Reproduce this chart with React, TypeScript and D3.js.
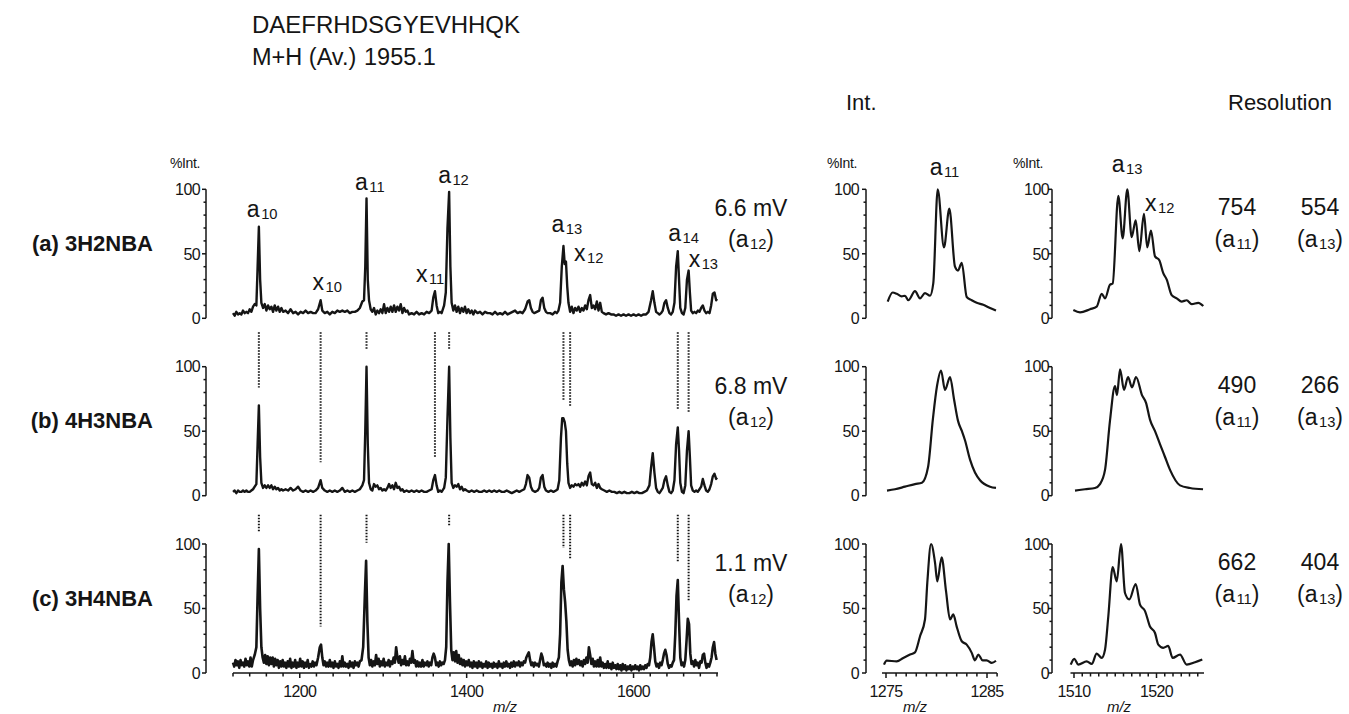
import React, { useEffect, useRef } from "react";
import * as d3 from "d3";

type Pt = [number, number];

const title = "DAEFRHDSGYEVHHQK";
const massLabel = "M+H (Av.)";
const massValue = "1955.1";

const panelNames = ["(a) 3H2NBA", "(b) 4H3NBA", "(c) 3H4NBA"];
const signal = ["6.6 mV", "6.8 mV", "1.1 mV"];
const resA11 = ["754", "490", "662"];
const resA13 = ["554", "266", "404"];

const mainTicks = [1200, 1400, 1600];
const leftZoomTicks = [1275, 1285];
const rightZoomTicks = [1510, 1520];
const yTicks = [0, 50, 100];

// full spectra, [m/z, %Int]
const spectrumA: Pt[] = [
  [1120, 4], [1122, 2], [1124, 5], [1126, 3], [1128, 4], [1130, 3], [1132, 6], [1134, 4], [1136, 5], [1138, 4],
  [1140, 7], [1142, 5], [1144, 9], [1146, 11], [1148, 10], [1149.5, 40], [1151, 71], [1152.5, 30], [1154, 12],
  [1156, 8], [1158, 11], [1160, 6], [1162, 10], [1164, 7], [1166, 9], [1168, 5], [1170, 10], [1172, 6], [1174, 9],
  [1176, 5], [1178, 8], [1180, 5], [1183, 6], [1186, 4], [1189, 7], [1192, 4], [1195, 5], [1198, 3], [1201, 5],
  [1204, 4], [1207, 6], [1210, 4], [1213, 5], [1216, 4], [1219, 4], [1222, 7], [1225, 14], [1227, 6], [1230, 4],
  [1233, 5], [1236, 3], [1239, 5], [1242, 4], [1245, 6], [1248, 5], [1251, 6], [1254, 5], [1257, 6], [1260, 4],
  [1263, 5], [1266, 5], [1269, 6], [1272, 8], [1275, 13], [1277, 14], [1278.5, 40], [1280, 93], [1281.5, 30],
  [1283, 14], [1285, 7], [1287, 5], [1289, 8], [1291, 3], [1293, 6], [1295, 4], [1297, 7], [1299, 4], [1301, 11],
  [1303, 4], [1305, 8], [1307, 5], [1309, 9], [1311, 5], [1313, 10], [1315, 5], [1317, 9], [1319, 6], [1321, 11],
  [1323, 4], [1325, 8], [1327, 5], [1329, 6], [1331, 3], [1334, 4], [1337, 3], [1340, 5], [1343, 3], [1346, 4],
  [1349, 3], [1352, 5], [1355, 4], [1358, 6], [1360, 16], [1362, 21], [1364, 10], [1366, 4], [1368, 5], [1370, 4],
  [1373, 10], [1375, 20], [1377, 70], [1379, 98], [1380.5, 40], [1382, 12], [1384, 6], [1386, 10], [1388, 5],
  [1390, 9], [1392, 4], [1394, 8], [1396, 5], [1398, 9], [1400, 4], [1402, 7], [1404, 4], [1406, 6], [1408, 3],
  [1410, 6], [1413, 4], [1416, 5], [1419, 3], [1422, 5], [1425, 4], [1428, 4], [1431, 3], [1434, 5], [1437, 3],
  [1440, 4], [1443, 3], [1446, 5], [1449, 3], [1452, 4], [1455, 5], [1458, 6], [1461, 4], [1464, 5], [1467, 4],
  [1470, 7], [1473, 13], [1475, 14], [1477, 8], [1479, 5], [1481, 4], [1484, 5], [1487, 6], [1489, 14], [1491, 16],
  [1493, 8], [1495, 5], [1497, 4], [1500, 4], [1503, 3], [1506, 5], [1508, 4], [1510, 6], [1512, 12], [1514, 40],
  [1516, 56], [1517.5, 42], [1519, 44], [1520.5, 25], [1522, 12], [1524, 5], [1526, 9], [1528, 4], [1530, 8],
  [1532, 6], [1534, 9], [1536, 5], [1538, 8], [1540, 6], [1542, 10], [1544, 7], [1546, 14], [1548, 18], [1550, 8],
  [1552, 10], [1554, 7], [1556, 13], [1558, 6], [1560, 12], [1562, 5], [1564, 4], [1567, 3], [1570, 4], [1573, 3],
  [1576, 3], [1579, 2], [1582, 3], [1585, 2], [1588, 3], [1591, 2], [1594, 3], [1597, 2], [1600, 3], [1603, 2],
  [1606, 3], [1609, 2], [1612, 3], [1615, 3], [1618, 5], [1621, 14], [1623, 21], [1625, 12], [1627, 5], [1629, 4],
  [1631, 3], [1633, 4], [1635, 6], [1637, 12], [1639, 14], [1641, 8], [1643, 4], [1645, 3], [1647, 5], [1649, 12],
  [1651, 40], [1653, 52], [1654.5, 30], [1656, 8], [1658, 4], [1660, 3], [1662, 8], [1664, 30], [1666, 37],
  [1667.5, 20], [1669, 6], [1671, 4], [1673, 5], [1675, 4], [1677, 6], [1679, 5], [1681, 8], [1683, 10], [1685, 6],
  [1687, 4], [1689, 5], [1691, 4], [1693, 10], [1695, 19], [1697, 20], [1699, 14], [1700, 15],
];

const spectrumB: Pt[] = [
  [1120, 3], [1122, 4], [1124, 2], [1126, 4], [1128, 3], [1130, 3], [1132, 4], [1134, 3], [1136, 4], [1138, 3],
  [1140, 3], [1142, 4], [1144, 5], [1146, 7], [1148, 9], [1149.5, 40], [1151, 70], [1152.5, 30], [1154, 10],
  [1156, 6], [1158, 8], [1160, 6], [1162, 8], [1164, 6], [1166, 8], [1168, 5], [1170, 7], [1172, 5], [1174, 6],
  [1176, 4], [1178, 5], [1180, 4], [1183, 5], [1186, 4], [1189, 6], [1192, 4], [1195, 5], [1198, 7], [1201, 4],
  [1204, 3], [1207, 4], [1210, 3], [1213, 4], [1216, 3], [1219, 4], [1222, 6], [1225, 12], [1227, 6], [1230, 4],
  [1233, 3], [1236, 4], [1239, 3], [1242, 4], [1245, 3], [1248, 4], [1251, 6], [1254, 3], [1257, 4], [1260, 3],
  [1263, 4], [1266, 3], [1269, 4], [1272, 5], [1275, 8], [1277, 12], [1278.5, 50], [1280, 100], [1281.5, 40],
  [1283, 10], [1285, 5], [1287, 4], [1289, 9], [1291, 7], [1293, 8], [1295, 5], [1297, 6], [1299, 4], [1301, 5],
  [1303, 4], [1305, 6], [1307, 9], [1309, 6], [1311, 8], [1313, 5], [1315, 10], [1317, 6], [1319, 7], [1321, 4],
  [1323, 5], [1325, 3], [1328, 4], [1331, 3], [1334, 4], [1337, 3], [1340, 4], [1343, 3], [1346, 4], [1349, 3],
  [1352, 3], [1355, 4], [1358, 5], [1360, 12], [1362, 16], [1364, 8], [1366, 3], [1368, 4], [1370, 3], [1373, 6],
  [1375, 14], [1377, 60], [1379, 100], [1380.5, 45], [1382, 10], [1384, 6], [1386, 8], [1388, 7], [1390, 9],
  [1392, 5], [1394, 7], [1396, 4], [1398, 5], [1400, 4], [1403, 3], [1406, 4], [1409, 3], [1412, 4], [1415, 3],
  [1418, 3], [1421, 4], [1424, 3], [1427, 4], [1430, 3], [1433, 4], [1436, 3], [1439, 4], [1442, 3], [1445, 3],
  [1448, 4], [1451, 3], [1454, 2], [1457, 3], [1460, 4], [1463, 3], [1466, 4], [1469, 5], [1471, 9], [1473, 16],
  [1475, 14], [1477, 7], [1479, 4], [1482, 3], [1485, 4], [1487, 6], [1489, 14], [1491, 16], [1493, 7], [1495, 4],
  [1498, 3], [1501, 4], [1504, 3], [1507, 4], [1509, 5], [1511, 12], [1513, 45], [1514.5, 60], [1516, 60],
  [1517.5, 57], [1519, 50], [1520.5, 25], [1522, 10], [1524, 6], [1526, 8], [1528, 7], [1530, 9], [1532, 8],
  [1534, 9], [1536, 7], [1538, 10], [1540, 8], [1542, 11], [1544, 8], [1546, 15], [1548, 18], [1550, 9], [1552, 8],
  [1554, 10], [1556, 6], [1558, 9], [1560, 6], [1562, 5], [1565, 4], [1568, 3], [1571, 4], [1574, 3], [1577, 3],
  [1580, 2], [1583, 3], [1586, 2], [1589, 3], [1592, 2], [1595, 2], [1598, 3], [1601, 2], [1604, 3], [1607, 2],
  [1610, 2], [1613, 3], [1616, 4], [1619, 8], [1621, 22], [1623, 33], [1625, 18], [1627, 6], [1629, 3], [1631, 2],
  [1633, 4], [1635, 6], [1637, 12], [1639, 15], [1641, 8], [1643, 3], [1645, 2], [1647, 4], [1649, 12], [1651, 40],
  [1653, 53], [1654.5, 35], [1656, 10], [1658, 3], [1660, 2], [1662, 8], [1664, 35], [1666, 50], [1667.5, 30],
  [1669, 8], [1671, 4], [1673, 3], [1675, 4], [1677, 3], [1679, 5], [1681, 7], [1683, 13], [1685, 8], [1687, 4],
  [1689, 3], [1691, 5], [1693, 9], [1695, 15], [1697, 17], [1699, 13], [1700, 14],
];

const spectrumC: Pt[] = [
  [1120, 8], [1121.5, 5], [1123, 10], [1124.5, 6], [1126, 9], [1127.5, 4], [1129, 10], [1130.5, 6], [1132, 8],
  [1133.5, 5], [1135, 11], [1136.5, 6], [1138, 9], [1139.5, 5], [1141, 12], [1142.5, 5], [1144, 10], [1146, 14],
  [1148, 20], [1149.5, 60], [1151, 96], [1152.5, 50], [1154, 20], [1155.5, 12], [1157, 8], [1158.5, 14], [1160, 7],
  [1161.5, 13], [1163, 6], [1164.5, 12], [1166, 7], [1167.5, 12], [1169, 5], [1170.5, 11], [1172, 6], [1173.5, 10],
  [1175, 4], [1176.5, 9], [1178, 5], [1179.5, 10], [1181, 5], [1182.5, 8], [1184, 4], [1185.5, 9], [1187, 5],
  [1188.5, 11], [1190, 4], [1191.5, 8], [1193, 5], [1194.5, 10], [1196, 4], [1197.5, 8], [1199, 5], [1200.5, 11],
  [1202, 5], [1203.5, 9], [1205, 4], [1206.5, 8], [1208, 5], [1209.5, 10], [1211, 4], [1212.5, 7], [1214, 5],
  [1215.5, 9], [1217, 5], [1218.5, 8], [1220, 6], [1222, 12], [1224, 20], [1225.5, 22], [1227, 12], [1228.5, 6],
  [1230, 9], [1231.5, 5], [1233, 8], [1234.5, 5], [1236, 10], [1237.5, 5], [1239, 8], [1240.5, 4], [1242, 9],
  [1243.5, 5], [1245, 7], [1246.5, 4], [1248, 9], [1249.5, 5], [1251, 13], [1252.5, 5], [1254, 8], [1255.5, 5],
  [1257, 7], [1258.5, 4], [1260, 9], [1261.5, 5], [1263, 8], [1264.5, 4], [1266, 9], [1267.5, 6], [1269, 8],
  [1270.5, 5], [1272, 9], [1274, 10], [1276, 20], [1278, 60], [1279.5, 87], [1281, 40], [1282.5, 12], [1284, 6],
  [1285.5, 10], [1287, 5], [1288.5, 9], [1290, 6], [1291.5, 14], [1293, 7], [1294.5, 11], [1296, 5], [1297.5, 9],
  [1299, 6], [1300.5, 11], [1302, 5], [1303.5, 8], [1305, 6], [1306.5, 10], [1308, 5], [1309.5, 9], [1311, 7],
  [1312.5, 12], [1314, 8], [1315.5, 20], [1317, 12], [1318.5, 8], [1320, 13], [1321.5, 6], [1323, 10], [1324.5, 7],
  [1326, 13], [1327.5, 6], [1329, 9], [1330.5, 6], [1332, 11], [1333.5, 8], [1335, 17], [1336.5, 8], [1338, 10],
  [1339.5, 5], [1341, 9], [1342.5, 5], [1344, 8], [1345.5, 5], [1347, 10], [1348.5, 5], [1350, 8], [1351.5, 6],
  [1353, 9], [1354.5, 5], [1356, 8], [1357.5, 6], [1359, 12], [1360.5, 15], [1362, 12], [1363.5, 6], [1365, 8],
  [1366.5, 5], [1368, 9], [1369.5, 6], [1371, 8], [1372.5, 7], [1374, 10], [1375.5, 20], [1377, 70], [1378.5, 100],
  [1380, 55], [1381.5, 18], [1383, 10], [1384.5, 16], [1386, 9], [1387.5, 17], [1389, 8], [1390.5, 14], [1392, 7],
  [1393.5, 11], [1395, 6], [1396.5, 10], [1398, 5], [1399.5, 9], [1401, 6], [1402.5, 10], [1404, 5], [1405.5, 8],
  [1407, 4], [1408.5, 9], [1410, 5], [1411.5, 8], [1413, 4], [1414.5, 9], [1416, 5], [1417.5, 8], [1419, 4],
  [1420.5, 7], [1422, 5], [1423.5, 9], [1425, 4], [1426.5, 8], [1428, 5], [1429.5, 7], [1431, 4], [1432.5, 8],
  [1434, 5], [1435.5, 7], [1437, 4], [1438.5, 9], [1440, 5], [1441.5, 7], [1443, 4], [1444.5, 8], [1446, 5],
  [1447.5, 9], [1449, 5], [1450.5, 7], [1452, 4], [1453.5, 8], [1455, 5], [1456.5, 9], [1458, 5], [1459.5, 8],
  [1461, 6], [1462.5, 9], [1464, 5], [1465.5, 8], [1467, 6], [1468.5, 9], [1470, 8], [1471.5, 12], [1473, 14],
  [1474.5, 16], [1476, 10], [1477.5, 6], [1479, 8], [1480.5, 5], [1482, 8], [1483.5, 6], [1485, 7], [1486.5, 5],
  [1488, 10], [1489.5, 15], [1491, 12], [1492.5, 6], [1494, 7], [1495.5, 5], [1497, 8], [1498.5, 5], [1500, 7],
  [1501.5, 4], [1503, 8], [1504.5, 5], [1506, 7], [1507.5, 5], [1509, 9], [1510.5, 12], [1512, 30], [1513.5, 70],
  [1515, 83], [1516.5, 65], [1518, 55], [1519.5, 40], [1521, 18], [1522.5, 10], [1524, 6], [1525.5, 9], [1527, 5],
  [1528.5, 10], [1530, 6], [1531.5, 11], [1533, 7], [1534.5, 10], [1536, 6], [1537.5, 9], [1539, 5], [1540.5, 10],
  [1542, 7], [1543.5, 12], [1545, 8], [1546.5, 20], [1548, 14], [1549.5, 7], [1551, 11], [1552.5, 5], [1554, 9],
  [1555.5, 5], [1557, 10], [1558.5, 5], [1560, 12], [1561.5, 5], [1563, 8], [1564.5, 4], [1566, 7], [1567.5, 4],
  [1569, 9], [1570.5, 4], [1572, 7], [1573.5, 3], [1575, 8], [1576.5, 4], [1578, 6], [1579.5, 3], [1581, 7],
  [1582.5, 3], [1584, 6], [1585.5, 2], [1587, 7], [1588.5, 3], [1590, 6], [1591.5, 2], [1593, 5], [1594.5, 3],
  [1596, 6], [1597.5, 2], [1599, 5], [1600.5, 3], [1602, 6], [1603.5, 3], [1605, 5], [1606.5, 2], [1608, 6],
  [1609.5, 3], [1611, 5], [1612.5, 3], [1614, 6], [1615.5, 4], [1617, 7], [1618.5, 6], [1620, 12], [1621.5, 24],
  [1623, 30], [1624.5, 20], [1626, 9], [1627.5, 5], [1629, 7], [1630.5, 4], [1632, 8], [1633.5, 6], [1635, 10],
  [1636.5, 15], [1638, 18], [1639.5, 14], [1641, 7], [1642.5, 4], [1644, 6], [1645.5, 5], [1647, 8], [1648.5, 10],
  [1650, 30], [1651.5, 60], [1653, 72], [1654.5, 40], [1656, 12], [1657.5, 6], [1659, 8], [1660.5, 5], [1662, 10],
  [1663.5, 25], [1665, 42], [1666.5, 38], [1668, 15], [1669.5, 7], [1671, 9], [1672.5, 5], [1674, 10], [1675.5, 6],
  [1677, 8], [1678.5, 4], [1680, 9], [1681.5, 8], [1683, 14], [1684.5, 15], [1686, 8], [1687.5, 4], [1689, 7],
  [1690.5, 5], [1692, 8], [1693.5, 12], [1695, 20], [1696.5, 24], [1698, 15], [1699.5, 10],
];

// a11 region (left zoom column)
const zoomA11a: Pt[] = [
  [1275.17, 13], [1275.66, 20], [1276.06, 19], [1276.55, 17], [1276.88, 17.5], [1277.21, 14], [1277.87, 21],
  [1278.37, 15.5], [1278.86, 19.5], [1279.36, 17.5], [1279.68, 27], [1280.12, 100], [1280.74, 55], [1281.27, 85],
  [1281.83, 40], [1282.13, 37], [1282.5, 43], [1282.99, 16.5], [1283.49, 14], [1283.98, 12], [1284.63, 10.5],
  [1285.3, 8], [1285.89, 6],
];
const zoomA11b: Pt[] = [
  [1275.1, 4], [1275.89, 5], [1276.88, 7], [1277.87, 9], [1278.56, 10], [1279.16, 22], [1279.65, 60], [1280.05, 85],
  [1280.45, 97], [1280.84, 82], [1281.34, 92], [1281.73, 75], [1282.13, 58], [1282.52, 50], [1282.82, 43],
  [1283.32, 28], [1283.81, 18], [1284.31, 12], [1285.3, 7], [1285.89, 6],
];
const zoomA11c: Pt[] = [
  [1274.8, 6.5], [1275.07, 9.6], [1276.06, 9], [1276.71, 11.7], [1277.38, 14.3], [1277.87, 16], [1278.37, 28.5],
  [1278.86, 41.5], [1279.09, 70], [1279.46, 100], [1279.85, 85.7], [1280.08, 71], [1280.51, 89.6], [1280.94, 63.6],
  [1281.34, 41.5], [1281.66, 45.4], [1282.0, 36], [1282.5, 24.6], [1282.99, 22], [1283.49, 15.6], [1283.81, 9.8],
  [1284.14, 14.3], [1284.57, 9.8], [1284.97, 9.8], [1285.47, 7.8], [1285.89, 9.5],
];

// a13 region (right zoom column)
const zoomA13a: Pt[] = [
  [1509.92, 6.4], [1510.73, 4.6], [1511.94, 7], [1512.75, 9], [1513.36, 19], [1513.76, 15.5], [1514.36, 26],
  [1514.69, 27], [1515.37, 95], [1515.9, 62], [1516.46, 100], [1516.99, 63], [1517.48, 76], [1517.92, 52],
  [1518.48, 81], [1518.88, 55], [1519.33, 68], [1519.82, 48], [1520.34, 45], [1520.82, 35], [1521.24, 30],
  [1521.84, 18], [1522.45, 15.5], [1523.05, 13], [1523.66, 14], [1524.27, 11], [1525.07, 12], [1525.67, 9.5],
];
const zoomA13b: Pt[] = [
  [1510.12, 4], [1511.33, 5], [1512.55, 6], [1513.15, 9], [1513.76, 20], [1514.36, 58], [1514.97, 85], [1515.21, 78],
  [1515.58, 98], [1516.06, 82], [1516.55, 92], [1517.03, 84], [1517.52, 92], [1518.24, 78], [1518.73, 72],
  [1519.21, 59], [1519.82, 50], [1520.42, 40], [1521.03, 30], [1521.64, 20], [1522.85, 8], [1524.06, 6], [1525.64, 5],
];
const zoomA13c: Pt[] = [
  [1509.6, 6.5], [1510.04, 11], [1510.52, 6.5], [1511.54, 9], [1512.15, 7], [1512.75, 15], [1513.36, 11.7],
  [1513.76, 18], [1514.16, 44], [1514.69, 82], [1515.18, 71], [1515.7, 100], [1516.18, 62], [1516.7, 57],
  [1517.48, 69], [1518.0, 53], [1518.61, 48], [1519.21, 36], [1519.82, 31], [1520.22, 22], [1520.82, 19.5],
  [1521.42, 21], [1521.96, 11.7], [1522.85, 14.3], [1523.66, 6.5], [1524.67, 8.3], [1525.55, 10.4],
];

// peak annotations in panel (a)
const peakIon = ["a", "x", "a", "x", "a", "a", "x", "a", "x"];
const peakNo = ["10", "10", "11", "11", "12", "13", "12", "14", "13"];
const peakMz = [1151, 1225, 1280, 1362, 1379, 1516, 1519, 1653, 1666];
const peakInt = [71, 14, 93, 21, 98, 56, 45, 52, 37];

// dotted guides between panels: m/z and peak height in the panel below
const guideMz = [1151, 1225, 1280, 1362, 1379, 1516, 1524, 1653, 1666];
const guideB = [70, 12, 100, 16, 100, 60, 55, 53, 50];
const guideC: (number | null)[] = [96, 22, 87, null, 100, 83, 75, 72, 42];

const FONT = "'Liberation Sans', Arial, Helvetica, sans-serif";
const INK = "#151515";

const App = () => {
  const ref = useRef<SVGSVGElement>(null);

  useEffect(() => {
    const svg = d3.select(ref.current);
    svg.selectAll("*").remove();
    svg.attr("font-family", FONT).attr("fill", INK);

    const panelTop = [189.3, 366.7, 544];
    const panelH = 129;
    const yScales = panelTop.map((t) => d3.scaleLinear().domain([0, 100]).range([t + panelH, t]));

    const xMain = d3.scaleLinear().domain([1120, 1700]).range([233, 717]);
    const xLeft = d3.scaleLinear().domain([1275, 1285]).range([886, 987]);
    const xRight = d3.scaleLinear().domain([1510, 1520]).range([1074, 1156.5]);

    const spectra = [spectrumA, spectrumB, spectrumC];
    const leftZooms = [zoomA11a, zoomA11b, zoomA11c];
    const rightZooms = [zoomA13a, zoomA13b, zoomA13c];

    // text helper with a subscript part
    const subLabel = (
      g: any, x: number, y: number, pre: string, sub: string, post: string,
      size: number, anchor = "start"
    ) => {
      const t = g.append("text").attr("x", x).attr("y", y).attr("font-size", size).attr("text-anchor", anchor);
      t.append("tspan").text(pre);
      t.append("tspan").attr("font-size", size * 0.64).attr("dx", 1.5).attr("dy", 2).text(sub);
      if (post) t.append("tspan").attr("dy", -2).text(post);
      return t;
    };

    // header
    svg.append("text").attr("x", 252).attr("y", 33).attr("font-size", 24).text(title);
    const m = svg.append("text").attr("y", 65).attr("font-size", 23.5);
    m.append("tspan").attr("x", 252).text(massLabel);
    m.append("tspan").attr("x", 364).text(massValue);
    svg.append("text").attr("x", 846).attr("y", 110).attr("font-size", 22).text("Int.");
    svg.append("text").attr("x", 1228).attr("y", 110).attr("font-size", 22).text("Resolution");

    const yAxis = (x: number, y: any, labelGap: number) => {
      const g = svg.append("g").attr("stroke", INK).attr("stroke-width", 1.5);
      g.append("line").attr("x1", x).attr("x2", x).attr("y1", y(0)).attr("y2", y(100));
      d3.range(0, 101, 10).forEach((v) => {
        g.append("line").attr("x1", x).attr("x2", x - (v % 50 === 0 ? 4 : 2.5))
          .attr("y1", y(v)).attr("y2", y(v));
      });
      yTicks.forEach((v) => {
        svg.append("text").attr("x", x - labelGap).attr("y", y(v)).attr("dy", "0.36em")
          .attr("text-anchor", "end").attr("font-size", 16).attr("letter-spacing", -0.6).text(v);
      });
    };

    const xAxis = (x: any, from: number, to: number, step: number, left: number, right: number,
      labels: number[], mzX: number) => {
      const y0 = yScales[2](0);
      const g = svg.append("g").attr("stroke", INK).attr("stroke-width", 1.5);
      g.append("line").attr("x1", left).attr("x2", right).attr("y1", y0).attr("y2", y0);
      d3.range(from, to + 0.001, step).forEach((v) => {
        const big = labels.includes(v);
        g.append("line").attr("x1", x(v)).attr("x2", x(v)).attr("y1", y0).attr("y2", y0 + (big ? 5 : 3.5));
      });
      labels.forEach((v) => {
        svg.append("text").attr("x", x(v)).attr("y", 697).attr("text-anchor", "middle")
          .attr("font-size", 16).attr("letter-spacing", -0.6).text(v);
      });
      svg.append("text").attr("x", mzX).attr("y", 712).attr("text-anchor", "middle")
        .attr("font-size", 15).attr("font-style", "italic").text("m/z");
    };

    const drawTrace = (data: Pt[], x: any, y: any, curve: any, width: number) => {
      const line = d3.line<Pt>().x((d) => x(d[0])).y((d) => y(d[1])).curve(curve);
      svg.append("path").datum(data).attr("d", line).attr("fill", "none").attr("stroke", INK)
        .attr("stroke-width", width).attr("stroke-linejoin", "round");
    };

    panelTop.forEach((_, i) => {
      const y = yScales[i];
      // sample name
      svg.append("text").attr("x", 153).attr("y", y(50) - 3).attr("text-anchor", "end")
        .attr("font-size", 22).attr("font-weight", "bold").text(panelNames[i]);

      yAxis(206, y, 6);
      yAxis(866, y, 7);
      yAxis(1052, y, 3);

      drawTrace(spectra[i], xMain, y, d3.curveLinear, i === 2 ? 2.6 : 2.4);
      drawTrace(leftZooms[i], xLeft, y, d3.curveMonotoneX, 2.2);
      drawTrace(rightZooms[i], xRight, y, d3.curveMonotoneX, 2.2);

      // signal intensity
      svg.append("text").attr("x", 751).attr("y", y(100) + 27).attr("text-anchor", "middle")
        .attr("font-size", 23).text(signal[i]);
      subLabel(svg, 751, y(100) + 58, "(a", "12", ")", 23, "middle");

      // resolution
      svg.append("text").attr("x", 1237).attr("y", y(100) + 26).attr("text-anchor", "middle")
        .attr("font-size", 23).text(resA11[i]);
      subLabel(svg, 1237, y(100) + 58, "(a", "11", ")", 23, "middle");
      svg.append("text").attr("x", 1320).attr("y", y(100) + 26).attr("text-anchor", "middle")
        .attr("font-size", 23).text(resA13[i]);
      subLabel(svg, 1320, y(100) + 58, "(a", "13", ")", 23, "middle");
    });

    // %Int. captions
    [170, 827, 1013].forEach((x) => {
      svg.append("text").attr("x", x).attr("y", 168).attr("font-size", 14).attr("letter-spacing", -0.4).text("%Int.");
    });

    // peak labels in (a)
    const labelDx = [-12, -8, -11.5, -19, -11, -12, 8, -9.5, 0];
    const labelDy = [-10, -10, -8, -9.5, -8.6, -14, 1, -10.5, -4];
    peakMz.forEach((mz, i) => {
      subLabel(svg, xMain(mz) + labelDx[i], yScales[0](peakInt[i]) + labelDy[i], peakIon[i], peakNo[i], "", 23);
    });
    // zoom labels
    subLabel(svg, xLeft(1280.12) - 8, yScales[0](100) - 14, "a", "11", "", 23);
    subLabel(svg, xRight(1516.46) - 15.6, yScales[0](100) - 17, "a", "13", "", 23);
    subLabel(svg, xRight(1518.48) + 1, yScales[0](81) - 3, "x", "12", "", 23);

    // dotted guides
    const guides = svg.append("g").attr("stroke", INK).attr("stroke-width", 2)
      .attr("stroke-dasharray", "1.5 1.5");
    guideMz.forEach((mz, i) => {
      const x = xMain(mz);
      guides.append("line").attr("x1", x).attr("x2", x)
        .attr("y1", yScales[0](0) + 14).attr("y2", yScales[1](guideB[i]) - 18);
      const c = guideC[i];
      if (c !== null) {
        guides.append("line").attr("x1", x).attr("x2", x)
          .attr("y1", yScales[1](0) + 19).attr("y2", yScales[2](c) - 18);
      }
    });

    // x axes (bottom row only)
    xAxis(xMain, 1120, 1700, 20, 233, 718, mainTicks, 505);
    xAxis(xLeft, 1275, 1286, 1, 882, 997, leftZoomTicks, 915);
    xAxis(xRight, 1510, 1525, 1, 1070.5, 1204, rightZoomTicks, 1119);
  }, []);

  return (
    <div style={{ position: "absolute", left: 0, top: 0, background: "#fff" }}>
      <svg ref={ref} width={1349} height={714} style={{ display: "block" }} />
    </div>
  );
};

export default App;
